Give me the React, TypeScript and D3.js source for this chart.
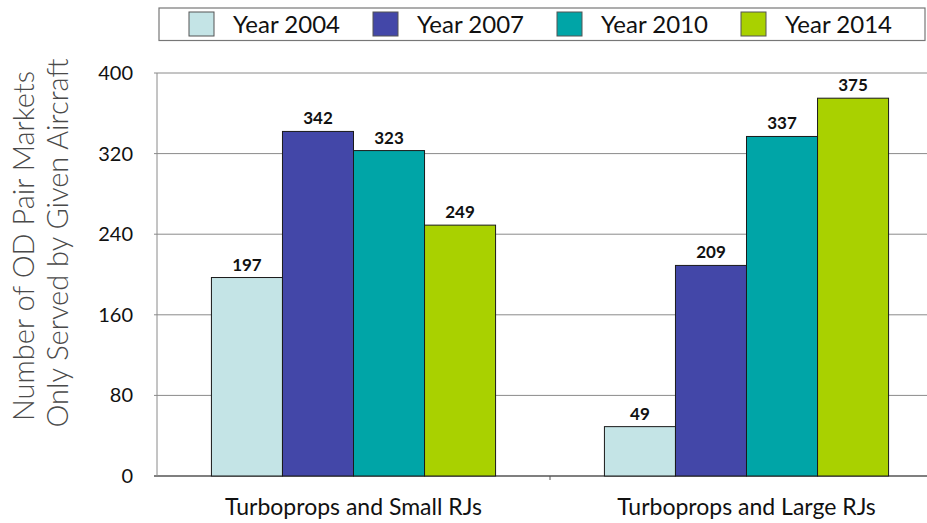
import React from "react";
import * as d3 from "d3";

const categories = ["Turboprops and Small RJs", "Turboprops and Large RJs"];
const seriesNames = ["Year 2004", "Year 2007", "Year 2010", "Year 2014"];
const values2004 = [197, 49];
const values2007 = [342, 209];
const values2010 = [323, 337];
const values2014 = [249, 375];
const yTicks = [0, 80, 160, 240, 320, 400];
const colors = ["#c4e4e6", "#4347a8", "#00a5a7", "#a9d100"];

const seriesValues = [values2004, values2007, values2010, values2014];

const W = 927;
const H = 523;
const FONT = "Lato, 'Open Sans', sans-serif";

export default function App() {
  const left = 157;
  const right = 943;
  const top = 73;
  const bottom = 476;

  const y = d3.scaleLinear().domain([0, 400]).range([bottom, top]);
  const x0 = d3
    .scaleBand<string>()
    .domain(categories)
    .range([left, right])
    .paddingInner(0.277)
    .paddingOuter(0.1385);
  const x1 = d3
    .scaleBand<string>()
    .domain(seriesNames)
    .range([0, x0.bandwidth()]);
  const step = x0.step();

  const legendX = d3
    .scalePoint<string>()
    .domain(seriesNames)
    .range([189, 741]);

  return (
    <svg
      width={W}
      height={H}
      style={{ position: "absolute", left: 0, top: 0, background: "#fff" }}
      fontFamily={FONT}
    >
      {/* gridlines */}
      {yTicks.map((t) => (
        <line
          key={"g" + t}
          x1={left - 3}
          x2={W}
          y1={y(t)}
          y2={y(t)}
          stroke={t === 0 ? "#555" : "#8a8a8a"}
          strokeWidth={t === 0 ? 1.5 : 1}
        />
      ))}
      {/* y axis line */}
      <line x1={left} x2={left} y1={top} y2={bottom} stroke="#8a8a8a" strokeWidth={1} />
      {/* category divider ticks */}
      {categories.map((c, i) => (
        <line
          key={"t" + c}
          x1={left + step * (i + 1)}
          x2={left + step * (i + 1)}
          y1={bottom}
          y2={bottom + 4}
          stroke="#555"
        />
      ))}
      {/* y tick labels */}
      {yTicks.map((t) => (
        <text
          key={"l" + t}
          x={133}
          y={y(t)}
          dy="0.35em"
          textAnchor="end"
          fontSize={20}
          fill="#111"
        >
          {t}
        </text>
      ))}
      {/* y title */}
      <g transform={`translate(24,246) rotate(-90)`}>
        <text textAnchor="middle" dy="0.35em" fontSize={29} fontWeight={300} fill="#4a4a4a">
          Number of OD Pair Markets
        </text>
      </g>
      <g transform={`translate(58,243) rotate(-90)`}>
        <text textAnchor="middle" dy="0.35em" fontSize={29} fontWeight={300} fill="#4a4a4a">
          Only Served by Given Aircraft
        </text>
      </g>
      {/* bars */}
      {categories.map((c, ci) => (
        <g key={c} transform={`translate(${x0(c)},0)`}>
          {seriesNames.map((s, si) => {
            const v = seriesValues[si][ci];
            const bx = x1(s)!;
            return (
              <g key={s}>
                <rect
                  x={bx}
                  y={y(v)}
                  width={x1.bandwidth()}
                  height={y(0) - y(v)}
                  fill={colors[si]}
                  stroke="#1a1a1a"
                  strokeWidth={1}
                />
                <text
                  x={bx + x1.bandwidth() / 2}
                  y={y(v) - 7}
                  textAnchor="middle"
                  fontSize={17}
                  fontWeight={700}
                  fill="#111"
                >
                  {v}
                </text>
              </g>
            );
          })}
        </g>
      ))}
      {/* category labels */}
      {categories.map((c) => (
        <text
          key={"c" + c}
          x={x0(c)! + x0.bandwidth() / 2}
          y={515}
          textAnchor="middle"
          fontSize={23}
          fill="#111"
        >
          {c}
        </text>
      ))}
      {/* legend */}
      <rect x={159} y={8} width={766} height={32.5} fill="#fff" stroke="#777" strokeWidth={1.2} />
      {seriesNames.map((s, i) => {
        const lx = legendX(s)!;
        return (
          <g key={"lg" + s}>
            <rect x={lx} y={12} width={25} height={24} fill={colors[i]} stroke="#555" strokeWidth={1} />
            <text x={lx + 44} y={33} fontSize={24} fill="#111">
              {s}
            </text>
          </g>
        );
      })}
    </svg>
  );
}
